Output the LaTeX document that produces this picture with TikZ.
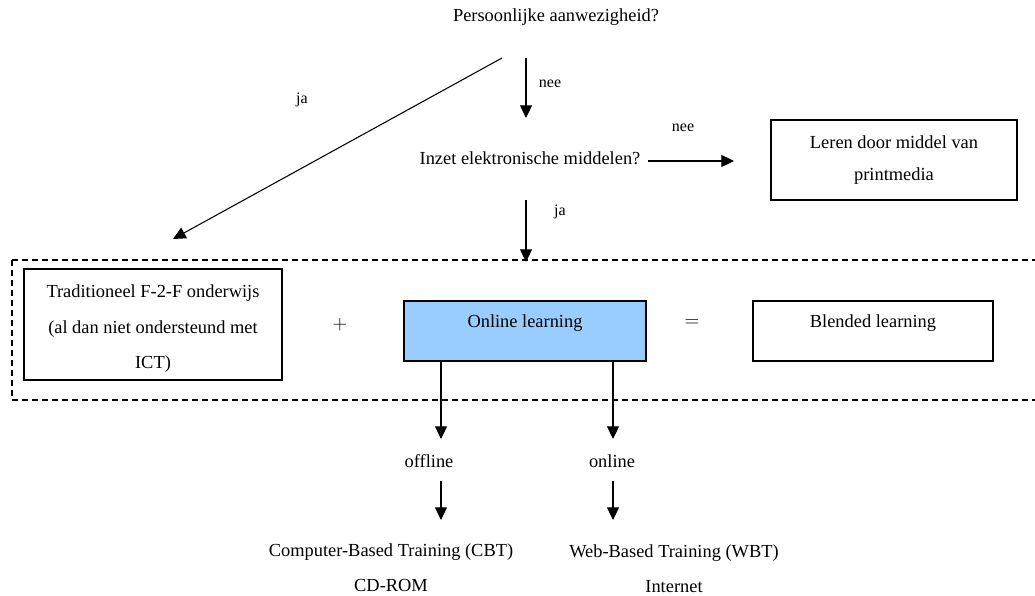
\documentclass[tikz,border=0pt]{standalone}
\usepackage{fontspec}
\setmainfont{Liberation Serif}
\usepackage{tikz}
\usetikzlibrary{arrows.meta,positioning,calc}
\definecolor{OnlineBlue}{HTML}{99CCFF}
\tikzset{
  vraag/.style    = {align=center, font=\fontsize{13.8}{26}\selectfont, inner sep=1pt},
  kader/.style    = {draw, line width=1.2pt, align=center,
                     font=\fontsize{13.8}{25}\selectfont, inner sep=2pt},
  kaderhoog/.style= {kader, text height=9.5pt, text depth=15pt,
                     minimum height=45pt},
  lbl/.style      = {font=\fontsize{12}{13}\selectfont, inner sep=1pt},
  teken/.style    = {font=\fontsize{14}{15}\selectfont, inner sep=1pt},
  flecha/.style   = {-{Triangle[length=9.5pt,width=9pt]}, line width=0.8pt},
  streep/.style   = {line width=1.1pt, dash pattern=on 4.5pt off 3pt},
}
\begin{document}
\begin{tikzpicture}[x=0.75pt, y=-0.75pt]
  \useasboundingbox (0,0) rectangle (1035,596);
  % vragen en kaders
  \node[vraag] (pers) at (556,17)  {Persoonlijke aanwezigheid?};
  \node[vraag] (inzet) at (530,158) {Inzet elektronische middelen?};
  \node[kader, minimum width=184.5pt, minimum height=60pt,
        font=\fontsize{13.8}{24}\selectfont] (print) at (894,160)
       {Leren door middel van\\printmedia};
  \node[kader, minimum width=193.5pt, minimum height=83.25pt,
        font=\fontsize{13.8}{26.5}\selectfont] (trad) at (153,324.5)
       {\rule{0pt}{16pt}Traditioneel F-2-F onderwijs\\(al dan niet ondersteund met\\ICT)};
  \node[kaderhoog, fill=OnlineBlue, minimum width=181.5pt] (onl) at (525,331)
       {Online learning};
  \node[kaderhoog, minimum width=180pt] (blend) at (873,331) {Blended learning};
  \node[teken] (plus) at (340,325) {$+$};
  \node[teken] (is)   at (692,323) {$=$};
  \draw[streep] (12,260) rectangle (1045,400);
  % takken onder online learning
  \node[vraag] (off) at (429,461) {offline};
  \node[vraag] (on)  at (612,461) {online};
  \node[vraag] (cbt) at (391,568) {Computer-Based Training (CBT)\\CD-ROM};
  \node[vraag] (wbt) at (674,569) {Web-Based Training (WBT)\\Internet};
  % losse eindpunten
  \coordinate (jaA)   at (502,58);
  \coordinate (jaB)   at (173,239);
  \coordinate (neeA)  at (526,58);
  \coordinate (neeB)  at (526,118);
  \coordinate (nee2A) at (648,161);
  \coordinate (nee2B) at (734,161);
  \coordinate (ja2A)  at (526,200);
  \coordinate (ja2B)  at (526,262);
  \coordinate (offA)  at (441,439);
  \coordinate (offB)  at (441,481);
  \coordinate (offC)  at (441,520);
  \coordinate (onA)   at (613,439);
  \coordinate (onB)   at (613,481);
  \coordinate (onC)   at (613,520);
  % pijlen
  \draw[flecha] (jaA) -- (jaB);
  \node[lbl] (jalbl) at (302,100) {ja};
  \draw[flecha] (neeA) -- (neeB);
  \node[lbl] (neelbl) at (550,84) {nee};
  \draw[flecha] (nee2A) -- (nee2B);
  \node[lbl] (nee2lbl) at (683,128) {nee};
  \draw[flecha] (ja2A) -- (ja2B);
  \node[lbl] (ja2lbl) at (560,212) {ja};
  \draw[flecha] (onl.south -| offA) -- (offA);
  \draw[flecha] (offB) -- (offC);
  \draw[flecha] (onl.south -| onA) -- (onA);
  \draw[flecha] (onB) -- (onC);
\end{tikzpicture}
\end{document}
